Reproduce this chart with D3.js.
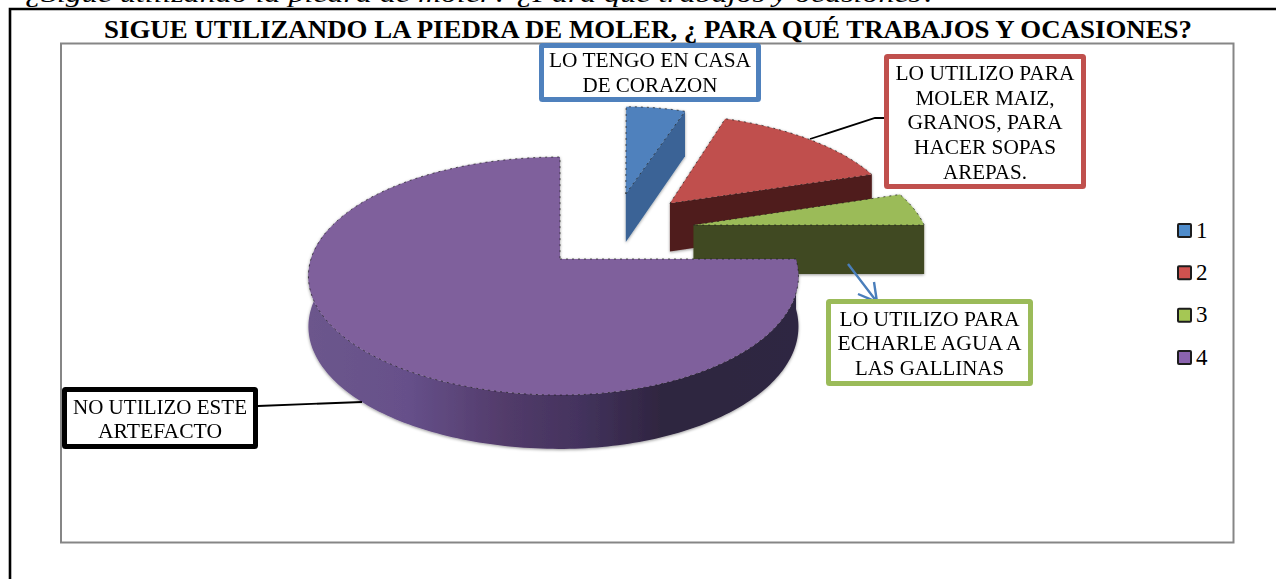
<!DOCTYPE html>
<html lang="es">
<head>
<meta charset="utf-8">
<title>Piedra de moler</title>
<script src="https://cdnjs.cloudflare.com/ajax/libs/d3/7.8.5/d3.min.js"></script>
<style>
html,body{margin:0;padding:0;background:#fff;overflow:hidden}
svg{display:block}
text{font-family:"Liberation Serif",serif;fill:#000}
</style>
</head>
<body>
<svg id="c" width="1276" height="579"></svg>
<script>
// ---- data ----
const categories = ["1", "2", "3", "4"];
const shares = [5.5, 14.7, 4.8, 75];
const introText = "¿Sigue utilizando la piedra de moler? ¿Para qué trabajos y ocasiones?";
const chartTitle = "SIGUE UTILIZANDO LA PIEDRA DE MOLER, ¿ PARA QUÉ TRABAJOS Y OCASIONES?";
const note1 = ["LO TENGO EN CASA", "DE CORAZON"];
const note2 = ["LO UTILIZO PARA", "MOLER MAIZ,", "GRANOS, PARA", "HACER SOPAS", "AREPAS."];
const note3 = ["LO UTILIZO PARA", "ECHARLE AGUA A", "LAS GALLINAS"];
const note4 = ["NO UTILIZO ESTE", "ARTEFACTO"];

// ---- styles ----
const topColors = ["#4f81bd", "#c0504d", "#9bbb59", "#7f609c"];
const sideColors = ["#3a6496", "#4f1c1c", "#404a22", "#2e2640"];
const legendColors = ["#4f8ccb", "#d0524f", "#a5c754", "#8a63ae"];

const svg = d3.select("#c");
const defs = svg.append("defs");

const wallGrad = defs.append("linearGradient").attr("id", "wall")
  .attr("gradientUnits", "userSpaceOnUse").attr("x1", 310).attr("x2", 797).attr("y1", 0).attr("y2", 0);
[[0, "#6c568c"], [0.2, "#66508a"], [0.4, "#523b6a"], [0.55, "#44335e"], [0.72, "#2f2540"], [1, "#2f2642"]]
  .forEach(([o, c]) => wallGrad.append("stop").attr("offset", o).attr("stop-color", c));

const shadow = defs.append("filter").attr("id", "soft")
  .attr("x", "-5%").attr("y", "-5%").attr("width", "110%").attr("height", "115%");
shadow.append("feDropShadow").attr("dx", 0).attr("dy", 1).attr("stdDeviation", 1.4)
  .attr("flood-color", "#000").attr("flood-opacity", 0.4);

// ---- page frame ----
svg.append("text").attr("x", 25).attr("y", 2).attr("font-size", 24).attr("font-style", "italic")
  .attr("textLength", 912).attr("lengthAdjust", "spacingAndGlyphs").text(introText);
svg.append("path").attr("d", "M10,579V9H1276").attr("fill", "none").attr("stroke", "#000").attr("stroke-width", 2.6);
svg.append("rect").attr("x", 61).attr("y", 43.5).attr("width", 1172.5).attr("height", 499)
  .attr("fill", "#fff").attr("stroke", "#868686").attr("stroke-width", 2);
svg.append("text").attr("x", 648).attr("y", 38).attr("text-anchor", "middle")
  .attr("font-size", 26).attr("font-weight", "bold")
  .attr("textLength", 1088).attr("lengthAdjust", "spacingAndGlyphs").text(chartTitle);

// ---- perspective pie ----
const cx = 560, cy = 259;
const scaleRight = 236, scaleLeft = 249, tilt = 116.6, persp = 0.143, depth = 50;
const explode = [[0.303, 0.606], [0.5, 0.512], [0.59, 0.304], [0, 0]];
const widen = [0.9, 1.02, 1.02, 1];
const lean = [8, 0, 0, 0];

function project(X, Z, down) {
  const w = 1 + persp * Z;
  const a = X >= 0 ? scaleRight : scaleLeft;
  return [cx + a * X / w, cy - tilt * Z / w + (down ? depth / (1 + 0.5 * persp * Z) : 0)];
}
const arcs = d3.pie().sort(null).value(d => d)(shares);
const line = d3.line();

function rimPoint(i, ang, down) {
  const [ex, ez] = explode[i];
  const p = project(ex + widen[i] * Math.sin(ang), ez + Math.cos(ang), down);
  p[0] += lean[i] * Math.cos(ang);
  return p;
}
function arcAngles(a0, a1) {
  const n = Math.max(2, Math.ceil((a1 - a0) / 0.02));
  return d3.range(n + 1).map(k => a0 + (a1 - a0) * k / n);
}

const pieG = svg.append("g").attr("filter", "url(#soft)");
arcs.forEach((d, i) => {
  const [ex, ez] = explode[i];
  const g = pieG.append("g");
  const apex = project(ex, ez, false), apexLow = project(ex, ez, true);
  const endTop = rimPoint(i, d.endAngle, false), endLow = rimPoint(i, d.endAngle, true);
  if (i < 3) {
    // visible cut face at the end angle of the slice
    g.append("path").attr("d", line([apex, endTop, endLow, apexLow]) + "Z").attr("fill", sideColors[i]);
  } else {
    // outer wall of the large slice, from 3 o'clock round to 9 o'clock
    const ang = arcAngles(d.startAngle, Math.PI * 1.5 + 0.25);
    const upper = ang.map(t => rimPoint(i, t, false));
    const lower = ang.map(t => rimPoint(i, t, true)).reverse();
    g.append("path").attr("d", line(upper.concat(lower)) + "Z").attr("fill", "url(#wall)");
  }
  const rim = arcAngles(d.startAngle, d.endAngle).map(t => rimPoint(i, t, false));
  const topPath = line([apex].concat(rim)) + "Z";
  g.append("path").attr("d", topPath).attr("fill", topColors[i]);
  g.append("path").attr("d", topPath).attr("fill", "none")
    .attr("stroke", "#1c1c1c").attr("stroke-width", 1).attr("stroke-dasharray", "2 4").attr("opacity", 0.7);
});

// ---- callouts ----
const leaders = svg.append("g").attr("fill", "none");
leaders.append("path").attr("d", "M810,139L875,118H886").attr("stroke", "#000").attr("stroke-width", 1.8);
leaders.append("path").attr("d", "M258,406L362,402").attr("stroke", "#000").attr("stroke-width", 1.8);
leaders.append("path").attr("d", "M848,264L877,302M858,294L877,302L874,282").attr("stroke", "#4a7ebb").attr("stroke-width", 2.4);

const notes = [
  {lines: note1, color: "#4f81bd", x0: 539, x1: 761, y0: 43, y1: 102, base: [67, 92], w: [202, 135]},
  {lines: note2, color: "#c0504d", x0: 884, x1: 1086, y0: 54, y1: 189, base: [80, 105, 129, 154, 179], w: [179, 139, 155, 142, 84]},
  {lines: note3, color: "#9bbb59", x0: 826, x1: 1033, y0: 299, y1: 386, base: [326, 350, 375], w: [180, 184, 149]},
  {lines: note4, color: "#000000", x0: 62, x1: 258, y0: 387, y1: 449, base: [414, 438], w: [174, 124]}
];
const sw = 5;
notes.forEach(n => {
  const g = svg.append("g");
  g.append("rect").attr("x", n.x0 + sw / 2).attr("y", n.y0 + sw / 2)
    .attr("width", n.x1 - n.x0 - sw).attr("height", n.y1 - n.y0 - sw).attr("rx", 1)
    .attr("fill", "#fff").attr("stroke", n.color).attr("stroke-width", sw);
  n.lines.forEach((t, k) => {
    g.append("text").attr("x", (n.x0 + n.x1) / 2).attr("y", n.base[k]).attr("text-anchor", "middle")
      .attr("font-size", 21).attr("textLength", n.w[k]).attr("lengthAdjust", "spacingAndGlyphs").text(t);
  });
});

// ---- legend ----
const legendY = d3.scalePoint().domain(categories).range([230.5, 357.5]);
const legend = svg.append("g").selectAll("g").data(categories).join("g")
  .attr("transform", d => `translate(1177,${legendY(d)})`);
legend.append("rect").attr("x", 1).attr("y", -6.5).attr("width", 13).attr("height", 13).attr("rx", 1)
  .attr("fill", (d, i) => legendColors[i]).attr("stroke", "#1d1d1d").attr("stroke-width", 2);
legend.append("text").attr("x", 19).attr("y", 7).attr("font-size", 23).text(d => d);
</script>
</body>
</html>
